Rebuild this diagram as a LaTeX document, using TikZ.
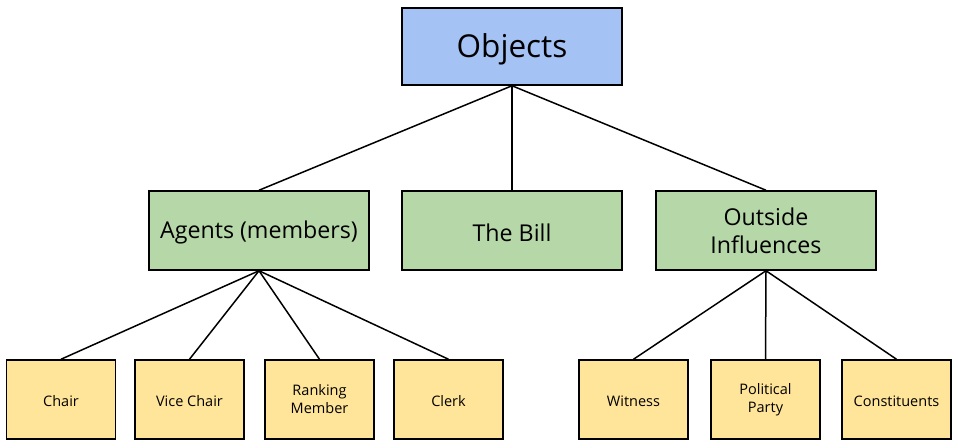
\documentclass[tikz,border=0pt]{standalone}
\usepackage{fontspec}
\setmainfont{Open Sans}
\definecolor{cblue}{HTML}{A4C2F4}
\definecolor{cgreen}{HTML}{B6D7A8}
\definecolor{cyellow}{HTML}{FFE599}
\tikzset{
  box/.style={draw=black, line width=1.5pt, inner sep=0pt, align=center},
  topbox/.style={box, fill=cblue, minimum width=220pt, minimum height=77pt, font=\fontsize{31.5}{36}\selectfont, text height=29pt},
  midbox/.style={box, fill=cgreen, minimum width=220pt, minimum height=79pt, font=\fontsize{23.2}{28}\selectfont},
  leafbox/.style={box, fill=cyellow, minimum width=109pt, minimum height=79pt, font=\fontsize{14.5}{18}\selectfont},
  lowmid/.style={text height=21.5pt},
  lowleaf/.style={text height=14pt},
  link/.style={draw=black, line width=1.5pt}
}
\begin{document}
\begin{tikzpicture}[x=1pt,y=-1pt]
\useasboundingbox (0,0) rectangle (958,447);
\node[topbox] (obj) at (512,46.5) {Objects};
\node[midbox, lowmid] (agents) at (259,230.5) {Agents (members)};
\node[midbox, lowmid] (bill) at (512,230.5) {The Bill};
\node[midbox] (outside) at (766,230.5) {Outside\\Influences};
\node[leafbox, lowleaf] (chair) at (61,399.5) {Chair};
\node[leafbox, lowleaf] (vice) at (189.5,399.5) {Vice Chair};
\node[leafbox] (rank) at (319.5,399.5) {Ranking\\Member};
\node[leafbox, lowleaf] (clerk) at (448.5,399.5) {Clerk};
\node[leafbox, lowleaf] (wit) at (633.5,399.5) {Witness};
\node[leafbox] (party) at (765.5,399.5) {Political\\Party};
\node[leafbox, lowleaf] (const) at (896.5,399.5) {Constituents};
\draw[link] (obj.south) -- (agents.north);
\draw[link] (obj.south) -- (bill.north);
\draw[link] (obj.south) -- (outside.north);
\draw[link] (agents.south) -- (chair.north);
\draw[link] (agents.south) -- (vice.north);
\draw[link] (agents.south) -- (rank.north);
\draw[link] (agents.south) -- (clerk.north);
\draw[link] (outside.south) -- (wit.north);
\draw[link] (outside.south) -- (party.north);
\draw[link] (outside.south) -- (const.north);
\end{tikzpicture}
\end{document}
